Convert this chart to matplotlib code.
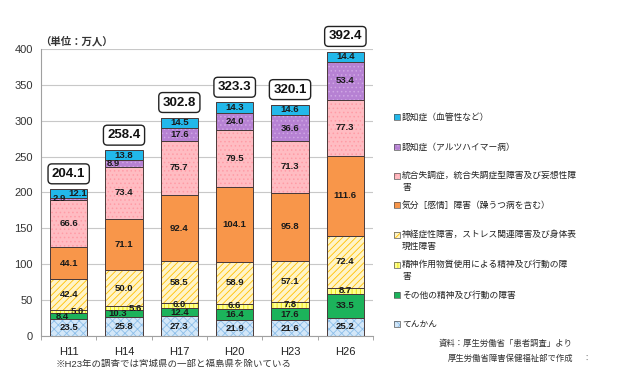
import matplotlib
matplotlib.use("Agg")
import matplotlib.pyplot as plt
import numpy as np
from matplotlib.patches import Rectangle
from matplotlib.transforms import Bbox

plt.rcParams['font.family'] = ['Liberation Sans', 'Noto Sans CJK JP', 'DejaVu Sans']
plt.rcParams['hatch.linewidth'] = 0.6

categories = ["H11", "H14", "H17", "H20", "H23", "H26"]
totals = [204.1, 258.4, 302.8, 323.3, 320.1, 392.4]

series_names = [
    "てんかん",
    "その他の精神及び行動の障害",
    "精神作用物質使用による精神及び行動の障\n害",
    "神経症性障害，ストレス関連障害及び身体表\n現性障害",
    "気分［感情］障害（躁うつ病を含む）",
    "統合失調症，統合失調症型障害及び妄想性障\n害",
    "認知症（アルツハイマー病）",
    "認知症（血管性など）",
]
epilepsy = [23.5, 25.8, 27.3, 21.9, 21.6, 25.2]
other = [8.4, 10.3, 12.4, 16.4, 17.6, 33.5]
substance = [5.0, 5.6, 6.0, 6.6, 7.8, 8.7]
neurotic = [42.4, 50.0, 58.5, 58.9, 57.1, 72.4]
mood = [44.1, 71.1, 92.4, 104.1, 95.8, 111.6]
schizo = [66.6, 73.4, 75.7, 79.5, 71.3, 77.3]
alzheimer = [2.9, 8.9, 17.6, 24.0, 36.6, 53.4]
vascular = [12.1, 13.8, 14.5, 14.3, 14.6, 14.4]
series = [epilepsy, other, substance, neurotic, mood, schizo, alzheimer, vascular]

# style per series: face, hatch, hatch colour
styles = [
    ("#d3e7f8", "xxxx", "#8dbfea"),
    ("#1cb35b", None, None),
    ("#ffff90", "||||", "#e8e000"),
    ("#fff4c8", "/////", "#ffc000"),
    ("#f8964a", None, None),
    ("#ffbcc2", "....", "#ff9ca6"),
    ("#b681d3", "....", "#cfa6e4"),
    ("#22b8ea", None, None),
]

# label x shifts (in category units) for crowded small segments
shifts = {(1, 0): -0.12, (2, 0): 0.15, (6, 0): -0.17, (7, 0): 0.17,
          (1, 1): -0.12, (2, 1): 0.2, (6, 1): -0.2}
yshifts = {(2, 2): 0.8, (2, 3): 0.6, (2, 4): 0.5, (1, 2): -0.8, (1, 3): -0.5}

fig = plt.figure(figsize=(6.3, 3.87), dpi=100)
ax = fig.add_axes([0.0651, 0.1318, 0.5270, 0.7416])

x = np.arange(len(categories))
w = 0.67
bottom = np.zeros(len(categories))
for i, (vals, (fc, hatch, hc)) in enumerate(zip(series, styles)):
    vals = np.array(vals)
    if hatch:
        ax.bar(x, vals, w, bottom=bottom, color=fc, hatch=hatch, edgecolor=hc,
               linewidth=0, zorder=2)
    else:
        ax.bar(x, vals, w, bottom=bottom, color=fc, linewidth=0, zorder=2)
    ax.bar(x, vals, w, bottom=bottom, fill=False, edgecolor="#4a3a3a",
           linewidth=0.7, zorder=3)
    for j, v in enumerate(vals):
        dx = shifts.get((i, j), 0)
        dy = yshifts.get((i, j), 0)
        ax.text(x[j] + dx, bottom[j] + v / 2 + dy, f"{v:.1f}", ha="center", va="center",
                fontsize=6.8, fontweight="bold", color="#1a1a1a", zorder=4)
    bottom += vals

for j, t in enumerate(totals):
    ax.text(x[j], bottom[j] + 21, f"{t:.1f}", ha="center", va="center",
            fontsize=9.5, fontweight="bold", color="#111111", zorder=5,
            bbox=dict(boxstyle="round,pad=0.3,rounding_size=0.3", fc="white",
                      ec="#222222", lw=1.0), clip_on=False)

ax.set_ylim(0, 400)
ax.set_xlim(-0.5, len(categories) - 0.5)
ax.set_yticks(np.arange(0, 401, 50))
ax.tick_params(axis="y", length=0, labelsize=8, colors="#333333", pad=6)
ax.set_xticks(x)
ax.set_xticklabels(categories)
ax.tick_params(axis="x", length=0, labelsize=8, colors="#222222", pad=8)
ax.set_xticks(np.arange(-0.5, len(categories), 1), minor=True)
ax.tick_params(axis="x", which="minor", length=3, color="#999999", direction="out")
ax.grid(axis="y", color="#c8c8c8", linewidth=0.8, zorder=0)
ax.set_axisbelow(True)
for s in ["top", "right"]:
    ax.spines[s].set_visible(False)
ax.spines["left"].set_color("#a0a0a0")
ax.spines["bottom"].set_color("#a0a0a0")

fig.text(40 / 630, 1 - 41 / 387, "（単位：万人）", fontsize=7.5, fontweight="bold",
         color="#333333", ha="left", va="center")

# legend (manual, Excel-like)
legend_y = [324, 295, 265, 235, 205, 176, 147, 117]
for i, (name, (fc, hatch, hc)) in enumerate(zip(series_names, styles)):
    yp = legend_y[i]
    fig.patches.append(Rectangle((394 / 630, 1 - (yp + 3) / 387), 6 / 630, 6 / 387,
                                 transform=fig.transFigure, facecolor=fc,
                                 hatch=hatch, edgecolor=hc if hatch else fc, lw=0))
    fig.patches.append(Rectangle((394 / 630, 1 - (yp + 3) / 387), 6 / 630, 6 / 387,
                                 transform=fig.transFigure, fill=False,
                                 edgecolor="#555555", lw=0.5))
    if "\n" in name:
        fig.text(402 / 630, 1 - (yp - 5.5) / 387, name, fontsize=6.3, color="#222222",
                 ha="left", va="top", linespacing=1.45)
    else:
        fig.text(402 / 630, 1 - yp / 387, name, fontsize=6.3, color="#222222",
                 ha="left", va="center")

fig.text(573 / 630, 1 - 344 / 387, "資料：厚生労働省「患者調査」より", fontsize=6,
         color="#333333", ha="right", va="center")
fig.text(573 / 630, 1 - 359 / 387, "厚生労働省障害保健福祉部で作成", fontsize=6,
         color="#333333", ha="right", va="center")
fig.text(583 / 630, 1 - 359 / 387, "：", fontsize=6, color="#777777",
         ha="left", va="center")

fn = fig.text(174 / 630, 1 - 364.5 / 387, "※H23年の調査では宮城県の一部と福島県を除いている",
              fontsize=6.8, color="#333333", ha="center", va="center")
fn.set_clip_box(Bbox.from_extents(0, 387 - 366.5, 630, 387))
fn.set_clip_on(True)

fig.savefig("out.png", dpi=100)
